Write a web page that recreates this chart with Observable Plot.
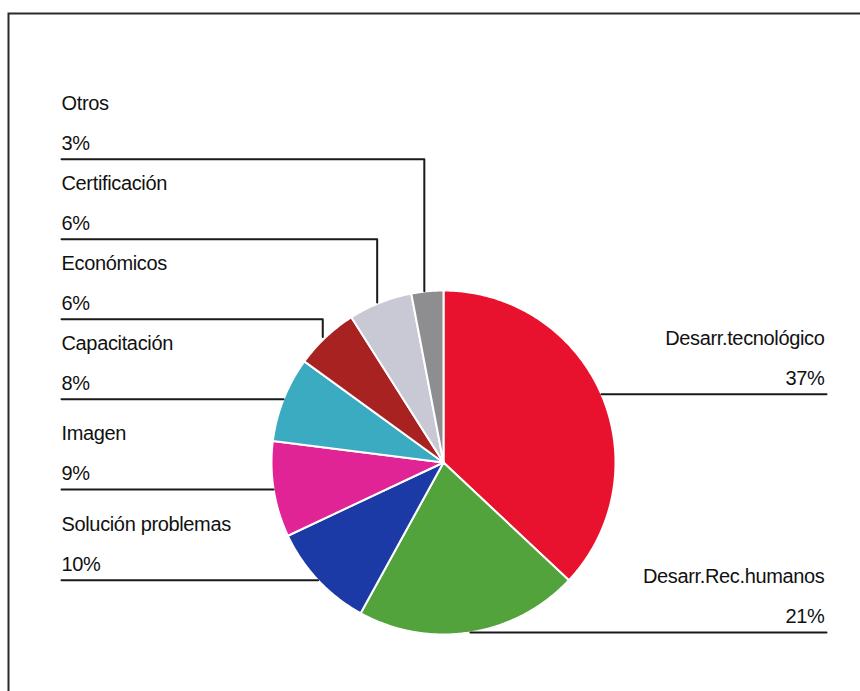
<!DOCTYPE html>
<html>
<head>
<meta charset="utf-8">
<script src="https://cdn.jsdelivr.net/npm/d3@7"></script>
<script src="https://cdn.jsdelivr.net/npm/@observablehq/plot@0.6"></script>
<style>
  html, body { margin: 0; padding: 0; background: #fff; }
  #chart { width: 860px; height: 691px; overflow: hidden; }
</style>
</head>
<body>
<div id="chart"></div>
<script>
// ---- Data ----
const categories = ["Desarr.tecnológico", "Desarr.Rec.humanos", "Solución problemas", "Imagen", "Capacitación", "Económicos", "Certificación", "Otros"];
const values = [37, 21, 10, 9, 8, 6, 6, 3];
const percentLabels = ["37%", "21%", "10%", "9%", "8%", "6%", "6%", "3%"];
const colors = ["#e8112e", "#52a33c", "#1c3aa6", "#e02496", "#3aabc0", "#a82222", "#c9c9d6", "#8e8e90"];

// ---- Layout ----
const W = 860, H = 691;
const cx = 443, cy = 462, R = 172;
const leftX = 61, rightX = 826;
const rowGap = 80;

const pie = d3.pie().sort(null).value(d => d)(values);
const pt = (a, r = R) => ({x: cx + r * Math.sin(a), y: cy - r * Math.cos(a)});

// slice polygons
const slices = pie.map((p, i) => {
  const pts = [{x: cx, y: cy}];
  const n = Math.max(8, Math.ceil((p.endAngle - p.startAngle) / 0.01));
  for (let k = 0; k <= n; k++) {
    pts.push(pt(p.startAngle + (p.endAngle - p.startAngle) * k / n));
  }
  pts.push({x: cx, y: cy});
  return pts;
});

// labels & leaders
const labels = pie.map((p, i) => {
  const mid = (p.startAngle + p.endAngle) / 2;
  const a = pt(mid);
  return {i, name: categories[i], pct: percentLabels[i], mid, ax: a.x, ay: a.y, left: mid > Math.PI};
});
// left side: stack from bottom to top
const leftLabels = labels.filter(d => d.left).sort((a, b) => b.ay - a.ay);
let prev = Infinity;
for (const d of leftLabels) { d.ly = Math.min(d.ay, prev - rowGap); prev = d.ly; }
labels.filter(d => !d.left).forEach(d => { d.ly = d.ay; });

const leaderPts = [];
for (const d of labels) {
  if (d.left) {
    leaderPts.push({k: d.i, x: leftX, y: d.ly});
    if (d.ay - d.ly > 1) {
      leaderPts.push({k: d.i, x: d.ax - 3, y: d.ly});
      leaderPts.push({k: d.i, x: d.ax - 3, y: d.ay});
    } else {
      leaderPts.push({k: d.i, x: d.ax, y: d.ay});
    }
  } else {
    leaderPts.push({k: d.i, x: d.ax, y: d.ly});
    leaderPts.push({k: d.i, x: rightX, y: d.ly});
  }
}

const textRows = [];
for (const d of labels) {
  textRows.push({t: d.name, x: d.left ? leftX : rightX - 2, y: d.ly - 56, anchor: d.left ? "start" : "end"});
  textRows.push({t: d.pct, x: d.left ? leftX : rightX - 2, y: d.ly - 16, anchor: d.left ? "start" : "end"});
}

const marks = [
  Plot.frame({insetLeft: 8, insetTop: 13, insetRight: -30, insetBottom: -30, stroke: "#2a2a2a", strokeWidth: 2})
];
slices.forEach((s, i) => {
  marks.push(Plot.line(s, {x: "x", y: "y", fill: colors[i], stroke: "#ffffff", strokeWidth: 2, strokeLinejoin: "round", curve: "linear"}));
});
marks.push(Plot.line(leaderPts, {x: "x", y: "y", z: "k", stroke: "#1a1a1a", strokeWidth: 2, curve: "linear"}));
marks.push(Plot.text(textRows.filter(d => d.anchor === "start"), {x: "x", y: "y", text: "t", textAnchor: "start", fill: "#111111"}));
marks.push(Plot.text(textRows.filter(d => d.anchor === "end"), {x: "x", y: "y", text: "t", textAnchor: "end", fill: "#111111"}));

const chart = Plot.plot({
  width: W,
  height: H,
  margin: 0,
  x: {domain: [0, W], range: [0, W], axis: null},
  y: {domain: [0, H], range: [0, H], axis: null},
  style: {fontFamily: "'Liberation Sans', Arial, sans-serif", fontSize: "20px", background: "#ffffff", letterSpacing: "-0.35px"},
  marks
});
document.getElementById("chart").appendChild(chart);
</script>
</body>
</html>
